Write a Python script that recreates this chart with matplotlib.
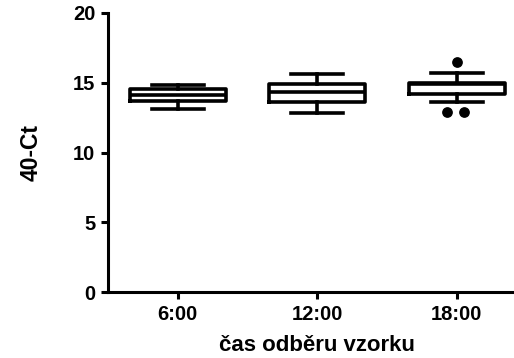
import matplotlib
matplotlib.use('Agg')
import matplotlib.pyplot as plt

plt.rcParams['font.family'] = ['Liberation Sans', 'DejaVu Sans']
plt.rcParams['font.weight'] = 'bold'

casy = ['6:00', '12:00', '18:00']
q1 = [13.66, 13.64, 14.2]
median = [14.12, 14.3, 14.88]
q3 = [14.52, 14.9, 15.0]
whislo = [13.1, 12.8, 13.64]
whishi = [14.84, 15.63, 15.72]
# odlehle hodnoty: (skupina, hodnota)
odlehle_skup = [3, 3, 3]
odlehle_hod = [16.45, 12.92, 12.92]
odlehle_posun = [0.0, -0.07, 0.05]

stats = []
for i in range(len(casy)):
    stats.append({'med': median[i], 'q1': q1[i], 'q3': q3[i],
                  'whislo': whislo[i], 'whishi': whishi[i], 'fliers': []})

fig = plt.figure(figsize=(5.14, 3.58), dpi=100)
ax = fig.add_axes([0.21, 0.184, 0.79, 0.78])

lw = 2.6
ax.bxp(stats, positions=[1, 2, 3], widths=0.69, showfliers=False,
       boxprops=dict(color='black', linewidth=lw),
       medianprops=dict(color='black', linewidth=lw),
       whiskerprops=dict(color='black', linewidth=lw),
       capprops=dict(color='black', linewidth=lw),
       capwidths=0.37)

ax.scatter([s + p for s, p in zip(odlehle_skup, odlehle_posun)], odlehle_hod,
           s=45, color='black', zorder=3)

ax.set_xlim(0.5, 3.41)
ax.set_ylim(0, 20)
ax.set_yticks([0, 5, 10, 15, 20])
ax.set_xticks([1, 2, 3])
ax.set_xticklabels(casy)
for s in ['top', 'right']:
    ax.spines[s].set_visible(False)
for s in ['left', 'bottom']:
    ax.spines[s].set_linewidth(2.2)
ax.tick_params(width=2.2, length=5, labelsize=14.5, pad=4)
ax.set_ylabel('40-Ct', fontsize=16.5, fontweight='bold', labelpad=22)
ax.set_xlabel('čas odběru vzorku', fontsize=16, fontweight='bold', labelpad=9)
ax.xaxis.set_label_coords(0.515, -0.155)

fig.savefig('out.png', dpi=100)
